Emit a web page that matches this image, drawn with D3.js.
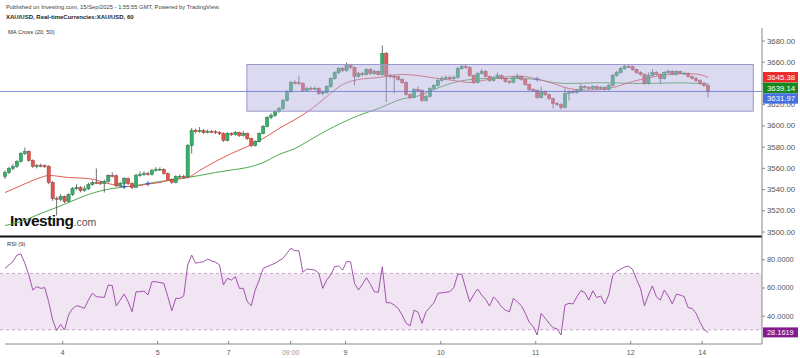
<!DOCTYPE html>
<html>
<head>
<meta charset="utf-8">
<script src="https://cdn.jsdelivr.net/npm/d3@7"></script>
<style>
  body { margin: 0; background: #fff; }
  svg { display: block; font-family: "Liberation Sans", Arial, sans-serif; }
</style>
</head>
<body>
<div id="chart"></div>
<script>
// XAU/USD hourly candles (bar index 0..177)
const open = [3551.8,3555.6,3559.4,3561.3,3566.0,3573.5,3575.4,3566.9,3561.3,3562.2,
  3562.0,3561.3,3546.2,3531.1,3530.4,3533.0,3528.3,3534.9,3540.5,3541.5,
  3538.6,3540.2,3544.3,3546.2,3546.0,3545.2,3547.1,3552.8,3552.5,3543.3,
  3545.2,3549.9,3545.2,3541.5,3552.8,3553.7,3554.6,3553.9,3557.5,3558.4,
  3558.6,3554.6,3549.0,3546.2,3551.8,3552.0,3551.6,3581.0,3595.2,3594.2,
  3595.0,3593.3,3594.2,3594.0,3593.3,3592.3,3585.8,3592.3,3591.4,3593.3,
  3590.5,3592.3,3587.6,3581.0,3584.8,3592.3,3598.9,3607.4,3609.3,3613.1,
  3615.9,3623.4,3631.9,3640.4,3640.2,3639.5,3632.9,3634.8,3634.5,3634.9,
  3630.0,3631.0,3636.6,3644.2,3649.8,3653.6,3651.7,3656.4,3654.6,3646.1,
  3648.9,3648.0,3652.7,3648.9,3650.8,3648.0,3667.7,3647.0,3646.1,3645.8,
  3643.2,3640.4,3629.1,3626.3,3633.8,3632.9,3623.4,3627.2,3634.8,3637.6,
  3642.3,3644.2,3645.1,3644.0,3645.1,3653.6,3655.5,3654.6,3647.0,3640.4,
  3648.9,3650.8,3646.1,3642.3,3645.1,3647.0,3644.2,3641.4,3640.4,3645.1,
  3646.1,3643.2,3638.5,3633.8,3632.9,3626.3,3631.9,3629.1,3625.3,3620.6,
  3619.7,3616.9,3630.0,3631.9,3631.0,3632.9,3636.6,3635.7,3634.8,3636.6,
  3634.8,3635.7,3633.8,3637.6,3647.0,3649.8,3653.6,3655.5,3655.3,3652.7,
  3649.8,3648.0,3639.5,3647.0,3649.8,3648.0,3644.2,3649.8,3650.8,3648.0,
  3650.8,3648.9,3649.1,3646.1,3644.2,3642.3,3639.5,3637.6];
const high = [3557.5,3561.0,3563.5,3567.2,3574.8,3579.2,3576.5,3568.0,3563.6,3564.0,
  3563.2,3562.5,3547.5,3533.0,3535.2,3534.0,3536.0,3541.8,3544.5,3542.8,
  3543.0,3546.0,3548.0,3559.4,3547.5,3549.0,3554.0,3555.8,3553.8,3547.0,
  3551.2,3551.0,3546.5,3554.5,3556.5,3557.0,3556.4,3559.0,3560.6,3560.5,
  3559.6,3555.5,3550.0,3553.0,3553.8,3553.6,3582.5,3597.5,3597.0,3598.5,
  3596.5,3596.0,3595.8,3595.5,3594.6,3593.5,3593.6,3593.5,3594.8,3594.0,
  3594.6,3593.2,3588.5,3586.0,3593.5,3600.2,3608.8,3611.5,3614.6,3617.5,
  3624.8,3633.2,3642.0,3642.5,3647.0,3640.6,3636.5,3636.6,3636.8,3635.8,
  3633.0,3637.8,3645.5,3651.2,3655.0,3655.2,3659.3,3657.8,3655.5,3650.5,
  3650.4,3654.0,3654.0,3652.5,3652.0,3675.3,3669.0,3648.6,3648.0,3646.8,
  3644.2,3641.5,3630.2,3635.2,3636.6,3634.0,3629.0,3636.0,3639.2,3643.6,
  3646.5,3647.0,3646.8,3647.2,3655.0,3657.2,3657.4,3655.6,3648.0,3650.0,
  3653.0,3652.0,3647.0,3646.5,3649.8,3648.0,3645.2,3642.6,3646.2,3648.6,
  3647.0,3644.0,3639.5,3635.0,3633.8,3636.5,3633.0,3630.0,3626.2,3622.0,
  3620.8,3635.7,3633.0,3633.5,3634.4,3639.0,3637.8,3637.0,3638.0,3637.5,
  3637.2,3636.8,3639.0,3648.4,3651.3,3655.0,3657.2,3657.0,3656.2,3653.5,
  3651.0,3649.0,3650.0,3652.8,3651.2,3649.0,3651.0,3652.4,3651.8,3652.0,
  3651.5,3650.6,3650.0,3647.0,3645.6,3643.5,3641.0,3639.1];
const low = [3549.5,3554.0,3557.8,3560.0,3565.1,3572.0,3565.8,3559.9,3559.5,3560.5,
  3559.8,3544.5,3529.0,3515.0,3528.6,3526.8,3527.5,3533.6,3539.2,3537.0,
  3537.5,3539.0,3543.0,3544.8,3543.8,3536.7,3546.0,3551.0,3542.0,3542.1,
  3544.0,3544.0,3540.0,3540.8,3551.5,3552.4,3552.6,3552.8,3556.4,3557.0,
  3553.5,3547.8,3545.0,3545.4,3550.5,3550.2,3550.5,3573.5,3592.5,3593.0,
  3592.0,3592.5,3592.8,3591.8,3591.0,3584.5,3584.8,3590.0,3590.3,3589.2,
  3589.5,3586.3,3579.5,3580.0,3584.0,3591.5,3598.0,3605.8,3608.0,3612.0,
  3614.8,3622.5,3630.8,3638.6,3638.2,3631.5,3631.8,3633.0,3633.2,3628.8,
  3628.5,3630.0,3635.5,3643.0,3648.5,3650.2,3650.5,3653.0,3637.6,3645.0,
  3646.5,3647.0,3647.6,3647.5,3646.8,3646.8,3622.0,3644.5,3630.0,3642.0,
  3639.0,3628.0,3624.6,3625.5,3631.5,3622.0,3622.5,3626.3,3633.6,3636.5,
  3641.2,3643.0,3642.8,3643.0,3644.0,3652.5,3653.2,3645.8,3639.0,3639.5,
  3648.0,3645.0,3641.0,3641.3,3644.0,3643.0,3640.0,3639.2,3639.6,3644.0,
  3642.0,3637.5,3632.5,3631.5,3625.0,3625.5,3627.8,3624.0,3615.9,3618.2,
  3615.0,3616.0,3623.4,3629.8,3630.0,3631.8,3634.5,3633.6,3633.8,3633.5,
  3633.8,3632.6,3632.8,3636.5,3646.0,3648.6,3652.4,3654.0,3651.5,3648.6,
  3646.9,3638.2,3638.6,3646.0,3646.8,3639.5,3643.2,3648.6,3647.0,3647.2,
  3647.8,3647.9,3645.0,3643.0,3641.0,3638.2,3636.2,3626.3];
const close = [3555.6,3559.4,3561.3,3566.0,3573.5,3575.4,3566.9,3561.3,3562.2,3562.0,
  3561.3,3546.2,3531.1,3530.4,3533.0,3528.3,3534.9,3540.5,3541.5,3538.6,
  3540.2,3544.3,3546.2,3546.0,3545.2,3547.1,3552.8,3552.5,3543.3,3545.2,
  3549.9,3545.2,3541.5,3552.8,3553.7,3554.6,3553.9,3557.5,3558.4,3558.6,
  3554.6,3549.0,3546.2,3551.8,3552.0,3551.6,3581.0,3595.2,3594.2,3595.0,
  3593.3,3594.2,3594.0,3593.3,3592.3,3585.8,3592.3,3591.4,3593.3,3590.5,
  3592.3,3587.6,3581.0,3584.8,3592.3,3598.9,3607.4,3609.3,3613.1,3615.9,
  3623.4,3631.9,3640.4,3640.2,3639.5,3632.9,3634.8,3634.5,3634.9,3630.0,
  3631.0,3636.6,3644.2,3649.8,3653.6,3651.7,3656.4,3654.6,3646.1,3648.9,
  3648.0,3652.7,3648.9,3650.8,3648.0,3667.7,3647.0,3646.1,3645.8,3643.2,
  3640.4,3629.1,3626.3,3633.8,3632.9,3623.4,3627.2,3634.8,3637.6,3642.3,
  3644.2,3645.1,3644.0,3645.1,3653.6,3655.5,3654.6,3647.0,3640.4,3648.9,
  3650.8,3646.1,3642.3,3645.1,3647.0,3644.2,3641.4,3640.4,3645.1,3646.1,
  3643.2,3638.5,3633.8,3632.9,3626.3,3631.9,3629.1,3625.3,3620.6,3619.7,
  3616.9,3630.0,3631.9,3631.0,3632.9,3636.6,3635.7,3634.8,3636.6,3634.8,
  3635.7,3633.8,3637.6,3647.0,3649.8,3653.6,3655.5,3655.3,3652.7,3649.8,
  3648.0,3639.5,3647.0,3649.8,3648.0,3644.2,3649.8,3650.8,3648.0,3650.8,
  3648.9,3649.1,3646.1,3644.2,3642.3,3639.5,3637.6,3631.97];

// MA Cross (20, 50), read at some bars
const maIdx = [0,4,9,11,16,21,27,30,33,36,39,42,46,49,53,57,61,65,69,73,77,81,85,89,94,
  100,104,108,113,117,121,125,129,134,138,142,146,150,154,158,162,166,170,174,177];
const ma20 = [3536.7,3543.3,3550.9,3552.8,3550.9,3549.9,3544.3,3542.4,3542.9,3544.8,
  3546.2,3549.0,3550.9,3557.5,3566.0,3573.5,3580.1,3587.6,3597.1,3605.5,
  3615.0,3627.2,3638.5,3643.2,3645.1,3648.0,3647.0,3644.7,3642.3,3640.4,
  3642.8,3645.1,3646.5,3643.7,3639.5,3634.8,3633.3,3633.8,3636.6,3641.4,
  3644.7,3647.5,3648.9,3648.4,3645.38];
const ma50 = [3505.6,3509.4,3517.0,3519.8,3527.3,3534.9,3540.5,3541.9,3543.3,3545.2,
  3547.1,3548.5,3550.9,3552.8,3555.6,3558.0,3560.3,3565.0,3572.6,3578.2,
  3586.7,3595.2,3602.7,3609.3,3615.9,3624.9,3627.7,3633.8,3640.4,3643.2,
  3644.2,3644.2,3644.2,3643.2,3640.4,3639.5,3639.8,3640.2,3640.0,3639.6,
  3639.5,3639.9,3640.1,3639.6,3639.14];
const crossIdx = [30, 36, 134];
const crossPrice = [3542.4, 3545.0, 3643.5];

// RSI (9), one value per bar
const rsi = [73.6,76.0,78.3,83.0,83.8,77.2,68.9,58.2,60.6,59.4,
  59.9,49.9,37.0,29.5,33.9,29.9,40.5,45.0,47.1,46.4,
  45.2,51.1,55.9,53.5,53.2,53.0,61.8,61.3,46.9,51.1,
  55.4,49.9,42.8,57.0,57.0,57.5,54.7,64.1,64.1,63.5,
  63.0,53.5,43.5,52.3,52.3,54.0,76.0,83.0,77.2,77.8,
  78.3,80.2,78.8,78.0,76.0,61.8,66.5,65.3,67.7,59.4,
  59.4,49.9,47.1,58.2,65.3,73.6,74.8,76.0,77.2,79.0,
  80.7,84.3,87.8,86.1,86.1,70.8,73.1,72.8,72.4,70.1,
  59.4,65.3,68.9,74.8,75.2,72.4,78.3,78.3,63.0,58.2,
  62.3,67.0,62.3,57.0,56.6,74.8,49.2,49.2,47.6,45.2,
  40.5,34.6,32.9,44.0,42.4,34.6,42.8,46.0,49.2,55.9,
  56.2,56.6,57.0,59.9,69.4,69.4,59.4,49.9,55.0,58.9,
  54.7,51.6,46.9,53.3,50.4,46.4,44.0,42.8,52.3,49.9,
  47.1,41.7,35.3,32.2,26.3,41.7,38.2,34.6,31.5,30.6,
  26.3,47.6,48.8,48.3,53.5,57.7,56.3,51.1,57.7,52.8,
  54.0,48.3,54.7,68.4,71.2,73.0,74.5,75.2,72.9,65.8,
  59.4,46.9,54.7,61.1,53.5,51.1,58.2,54.0,48.3,55.2,
  54.7,53.5,45.7,45.2,41.7,35.3,30.3,28.1619];

// axis ticks and labels
const priceTicks = [3500,3520,3540,3560,3580,3600,3620,3640,3660,3680];
const rsiTicks = [40, 60, 80];
const rsiBand = [30, 70];
const dayTickIdx = [14.4, 38.3, 56.2, 71.8, 85.6, 109.6, 133.5, 157.4, 175.4];
const dayLabels = ["4","5","7","09:00","9","10","11","12","14"];

// range box drawn on the chart
const boxIdx = [60.9, 188.4];
const boxPrice = [3613.4, 3657.4];

// last values shown on the price scale: MA20, MA50, last price
const lastValues = [3645.38, 3639.14, 3631.97];

const W = 800, H = 358, axisX = 762;

const svg = d3.select("#chart").append("svg")
  .attr("width", W)
  .attr("height", H);

const x = d3.scaleLinear().domain([0, close.length - 1]).range([5, 708]);
const y = d3.scaleLinear().domain([3500, 3680]).range([231.5, 40.5]);
const r = d3.scaleLinear().domain([40, 80]).range([315.7, 259.3]);

// header
svg.append("text").attr("x", 6).attr("y", 9)
  .attr("font-size", 5.8).attr("fill", "#444")
  .text("Published on Investing.com, 15/Sep/2025 - 1:55:55 GMT, Powered by TradingView.");
svg.append("text").attr("x", 6).attr("y", 19)
  .attr("font-size", 6).attr("font-weight", "bold").attr("fill", "#222")
  .text("XAU/USD, Real-timeCurrencies:XAU/USD, 60");
svg.append("text").attr("x", 8).attr("y", 34)
  .attr("font-size", 5.8).attr("fill", "#333")
  .text("MA Cross (20, 50)");

// logo
const logo = svg.append("text").attr("x", 10).attr("y", 225.5);
logo.append("tspan").attr("font-size", 15.5).attr("font-weight", "bold")
  .attr("letter-spacing", -0.5).attr("fill", "#111").text("Investing");
logo.append("tspan").attr("font-size", 10.5).attr("fill", "#555").text(".com");

const bars = close.map((c, i) => ({i: i, o: open[i], h: high[i], l: low[i], c: c}));

// MA lines
const maLine = vals => d3.line()
  .x((d, k) => x(maIdx[k]))
  .y(d => y(d))
  .curve(d3.curveMonotoneX)(vals);

svg.append("path").attr("d", maLine(ma50))
  .attr("fill", "none").attr("stroke", "#4fa84f").attr("stroke-width", 1);
svg.append("path").attr("d", maLine(ma20))
  .attr("fill", "none").attr("stroke", "#e25a55").attr("stroke-width", 1);

// candles
const g = svg.append("g");
g.selectAll(".wick")
  .data(bars)
  .enter().append("line")
    .attr("class", "wick")
    .attr("x1", d => x(d.i)).attr("x2", d => x(d.i))
    .attr("y1", d => y(d.h)).attr("y2", d => y(d.l))
    .attr("stroke", "#4a4a4a").attr("stroke-width", 0.8);

g.selectAll(".body")
  .data(bars)
  .enter().append("rect")
    .attr("class", "body")
    .attr("x", d => x(d.i) - 1.6)
    .attr("width", 3.2)
    .attr("y", d => y(Math.max(d.o, d.c)))
    .attr("height", d => Math.max(0.8, Math.abs(y(d.o) - y(d.c))))
    .attr("fill", d => d.c >= d.o ? "#35b06a" : "#e2554e")
    .attr("stroke", d => d.c >= d.o ? "#1f7a45" : "#a33a35")
    .attr("stroke-width", 0.5);

// MA cross markers
crossIdx.forEach((ci, k) => {
  const cx = x(ci), cy = y(crossPrice[k]);
  svg.append("path")
    .attr("d", `M${cx - 2.5},${cy}H${cx + 2.5}M${cx},${cy - 2.5}V${cy + 2.5}`)
    .attr("stroke", "#2d4fd0").attr("stroke-width", 1);
});

// range box over the candles
svg.append("rect")
  .attr("x", x(boxIdx[0]))
  .attr("width", x(boxIdx[1]) - x(boxIdx[0]))
  .attr("y", y(boxPrice[1]))
  .attr("height", y(boxPrice[0]) - y(boxPrice[1]))
  .attr("fill", "rgba(178,173,222,0.45)")
  .attr("stroke", "#9a96cc").attr("stroke-width", 1);

// last price line
svg.append("line")
  .attr("x1", 0).attr("x2", axisX)
  .attr("y1", y(lastValues[2])).attr("y2", y(lastValues[2]))
  .attr("stroke", "#6677d0").attr("stroke-width", 0.8);

// price axis (3640 sits under the value boxes and is not shown)
const yAxis = svg.append("g")
  .attr("transform", `translate(${axisX},0)`)
  .call(d3.axisRight(y).tickValues(priceTicks)
    .tickFormat(d => d === 3640 ? "" : d3.format(".2f")(d)).tickSize(3).tickPadding(2));
yAxis.select(".domain").remove();
yAxis.selectAll(".tick line").attr("stroke", "#888");
yAxis.selectAll(".tick text").attr("fill", "#555").attr("font-size", 7.8)
  .attr("font-family", "Liberation Sans, Arial, sans-serif");

// last value boxes, pushed apart when they overlap
const labelColors = ["#ec2a2a", "#16881c", "#4470e0"];
let prev = -Infinity;
lastValues.forEach((v, k) => {
  let cy = Math.max(y(v), prev + 10.6);
  prev = cy;
  svg.append("rect")
    .attr("x", axisX + 1).attr("y", cy - 5.2)
    .attr("width", 35).attr("height", 10.4)
    .attr("fill", labelColors[k]);
  svg.append("text")
    .attr("x", axisX + 5).attr("y", cy + 2.7)
    .attr("font-size", 7.8).attr("fill", "#fff")
    .text(d3.format(".2f")(v));
});

// separator between panes
svg.append("line")
  .attr("x1", 0).attr("x2", axisX)
  .attr("y1", 236.5).attr("y2", 236.5)
  .attr("stroke", "#111").attr("stroke-width", 2);

// RSI pane
svg.append("text").attr("x", 7).attr("y", 246)
  .attr("font-size", 5.8).attr("fill", "#333").text("RSI (9)");

svg.append("rect")
  .attr("x", 0).attr("width", axisX)
  .attr("y", r(rsiBand[1])).attr("height", r(rsiBand[0]) - r(rsiBand[1]))
  .attr("fill", "#f2e5f3");

svg.selectAll(".band-line")
  .data(rsiBand)
  .enter().append("line")
    .attr("class", "band-line")
    .attr("x1", 0).attr("x2", axisX)
    .attr("y1", d => r(d)).attr("y2", d => r(d))
    .attr("stroke", "#c4a9c6").attr("stroke-width", 1)
    .attr("stroke-dasharray", "3,3");

svg.append("path")
  .attr("d", d3.line().x((d, i) => x(i)).y(d => r(d))(rsi))
  .attr("fill", "none").attr("stroke", "#a054ab").attr("stroke-width", 1);

const rAxis = svg.append("g")
  .attr("transform", `translate(${axisX},0)`)
  .call(d3.axisRight(r).tickValues(rsiTicks).tickFormat(d3.format(".4f")).tickSize(3).tickPadding(2));
rAxis.select(".domain").remove();
rAxis.selectAll(".tick line").attr("stroke", "#888");
rAxis.selectAll(".tick text").attr("fill", "#555").attr("font-size", 7.4)
  .attr("font-family", "Liberation Sans, Arial, sans-serif");

const lastRsi = rsi[rsi.length - 1];
svg.append("rect")
  .attr("x", axisX + 1).attr("y", r(lastRsi) - 5)
  .attr("width", 35).attr("height", 10)
  .attr("fill", "#851b8e");
svg.append("text")
  .attr("x", axisX + 5).attr("y", r(lastRsi) + 2.6)
  .attr("font-size", 7.4).attr("fill", "#fff")
  .text(d3.format(".4f")(lastRsi));

// right scale line
svg.append("line")
  .attr("x1", axisX).attr("x2", axisX)
  .attr("y1", 28).attr("y2", 344)
  .attr("stroke", "#888").attr("stroke-width", 1);

// time axis
const xAxis = svg.append("g")
  .attr("transform", "translate(0,344)")
  .call(d3.axisBottom(x).tickValues(dayTickIdx)
    .tickFormat((d, k) => dayLabels[k]).tickSize(-3).tickPadding(6));
xAxis.select(".domain").remove();
xAxis.selectAll(".tick line").attr("stroke", "#888");
xAxis.selectAll(".tick text")
  .attr("fill", (d, k) => dayLabels[k].includes(":") ? "#999" : "#555")
  .attr("font-size", 7)
  .attr("font-family", "Liberation Sans, Arial, sans-serif");
svg.append("line")
  .attr("x1", 5).attr("x2", axisX)
  .attr("y1", 344).attr("y2", 344)
  .attr("stroke", "#888").attr("stroke-width", 1);
</script>
</body>
</html>
